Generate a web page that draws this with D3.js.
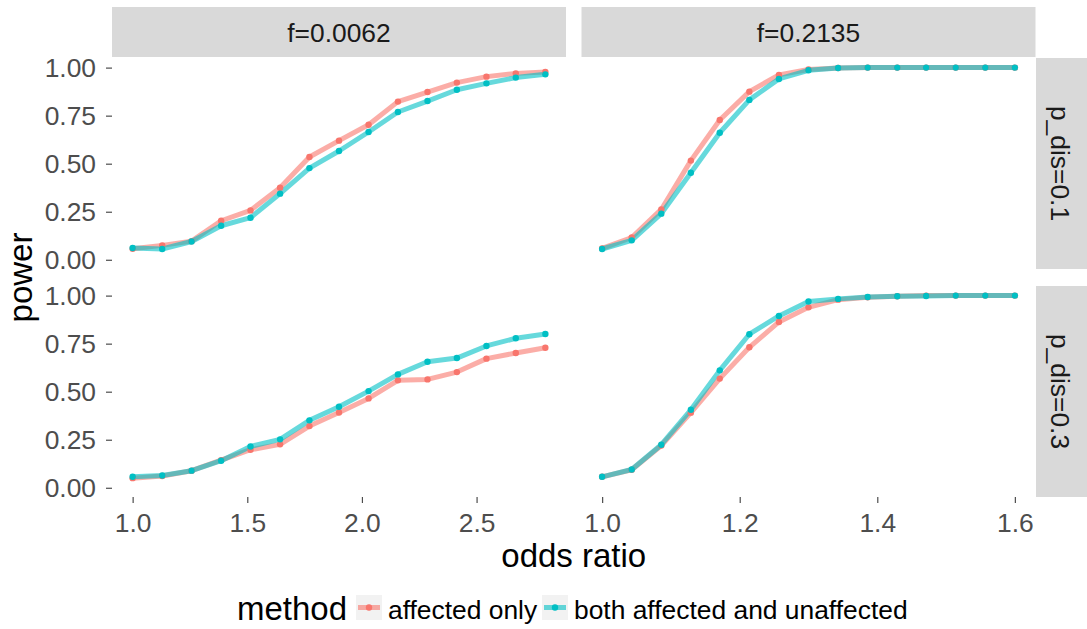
<!DOCTYPE html>
<html>
<head>
<meta charset="utf-8">
<script src="https://cdn.jsdelivr.net/npm/d3@7"></script>
<style>
  html, body { margin: 0; padding: 0; background: #ffffff; }
  svg { display: block; font-family: "Liberation Sans", Arial, sans-serif; }
</style>
</head>
<body>
<svg id="chart" width="1087" height="629"></svg>
<script>
// Odds ratios evaluated for each allele frequency
const oddsLow = [1.00, 1.129, 1.257, 1.386, 1.514, 1.643, 1.771, 1.900, 2.029, 2.157, 2.286, 2.414, 2.543, 2.671, 2.80];
const oddsHigh = [1.00, 1.043, 1.086, 1.129, 1.171, 1.214, 1.257, 1.300, 1.343, 1.386, 1.429, 1.471, 1.514, 1.557, 1.60];

const freqLabels = ["f=0.0062", "f=0.2135"];
const disLabels = ["p_dis=0.1", "p_dis=0.3"];
const methods = ["affected only", "both affected and unaffected"];

// Power, f=0.0062, p_dis=0.1
const pow_f1_d1_aff  = [0.057, 0.075, 0.097, 0.203, 0.257, 0.375, 0.535, 0.620, 0.703, 0.823, 0.873, 0.922, 0.953, 0.970, 0.977];
const pow_f1_d1_both = [0.061, 0.056, 0.095, 0.177, 0.219, 0.344, 0.477, 0.566, 0.665, 0.769, 0.826, 0.885, 0.918, 0.948, 0.965];
// Power, f=0.2135, p_dis=0.1
const pow_f2_d1_aff  = [0.059, 0.116, 0.262, 0.516, 0.727, 0.875, 0.962, 0.990, 0.998, 1.000, 1.000, 1.000, 1.000, 1.000, 1.000];
const pow_f2_d1_both = [0.056, 0.101, 0.240, 0.453, 0.661, 0.832, 0.941, 0.986, 0.998, 1.000, 1.000, 1.000, 1.000, 1.000, 1.000];
// Power, f=0.0062, p_dis=0.3
const pow_f1_d2_aff  = [0.050, 0.061, 0.089, 0.144, 0.198, 0.226, 0.321, 0.392, 0.465, 0.559, 0.564, 0.602, 0.672, 0.701, 0.729];
const pow_f1_d2_both = [0.057, 0.064, 0.089, 0.141, 0.215, 0.252, 0.351, 0.422, 0.503, 0.590, 0.656, 0.675, 0.738, 0.778, 0.800];
// Power, f=0.2135, p_dis=0.3
const pow_f2_d2_aff  = [0.057, 0.094, 0.220, 0.391, 0.568, 0.731, 0.863, 0.939, 0.979, 0.991, 0.997, 1.000, 1.000, 1.000, 1.000];
const pow_f2_d2_both = [0.057, 0.095, 0.224, 0.406, 0.611, 0.799, 0.894, 0.969, 0.983, 0.993, 0.997, 0.998, 1.000, 1.000, 1.000];

const xTicksLow = [1.0, 1.5, 2.0, 2.5];
const xTicksHigh = [1.0, 1.2, 1.4, 1.6];
const yTicks = [0, 0.25, 0.5, 0.75, 1.0];

const colors = { "affected only": "#F8766D", "both affected and unaffected": "#00BFC4" };

// Panel table built from the arrays above
const panels = [
  { col: 0, row: 0, x: oddsLow,  series: [pow_f1_d1_aff, pow_f1_d1_both] },
  { col: 1, row: 0, x: oddsHigh, series: [pow_f2_d1_aff, pow_f2_d1_both] },
  { col: 0, row: 1, x: oddsLow,  series: [pow_f1_d2_aff, pow_f1_d2_both] },
  { col: 1, row: 1, x: oddsHigh, series: [pow_f2_d2_aff, pow_f2_d2_both] }
];

// Layout
const baseSize = 33;
const smallSize = 26.4;
const colLeft = [112, 581.5];
const panelW = 454;
const rowTop = [58, 286];
const panelH = 211;
const stripTop = 7, stripH = 50;
const stripRightX = 1036, stripRightW = 51;

const svg = d3.select("#chart");

function xScaleFor(col) {
  const xs = col === 0 ? oddsLow : oddsHigh;
  const lo = d3.min(xs), hi = d3.max(xs), pad = (hi - lo) * 0.05;
  return d3.scaleLinear().domain([lo - pad, hi + pad]).range([colLeft[col], colLeft[col] + panelW]);
}
function yScaleFor(row) {
  return d3.scaleLinear().domain([-0.048, 1.05]).range([rowTop[row] + panelH, rowTop[row]]);
}

// Column strips
freqLabels.forEach((lab, i) => {
  svg.append("rect").attr("x", colLeft[i]).attr("y", stripTop).attr("width", panelW).attr("height", stripH).attr("fill", "#D9D9D9");
  svg.append("text").attr("x", colLeft[i] + panelW / 2).attr("y", stripTop + stripH / 2 + 9.5)
    .attr("text-anchor", "middle")
    .attr("font-size", smallSize).attr("fill", "#1A1A1A").text(lab);
});
// Row strips
disLabels.forEach((lab, j) => {
  svg.append("rect").attr("x", stripRightX).attr("y", rowTop[j]).attr("width", stripRightW).attr("height", panelH).attr("fill", "#D9D9D9");
  const cy = rowTop[j] + panelH / 2;
  svg.append("text").attr("transform", `translate(1050.5,${cy}) rotate(90)`)
    .attr("text-anchor", "middle")
    .attr("font-size", smallSize).attr("fill", "#1A1A1A").text(lab);
});

const line = (xs, sx, sy) => d3.line().x((d, i) => sx(xs[i])).y(d => sy(d));

panels.forEach(p => {
  const sx = xScaleFor(p.col), sy = yScaleFor(p.row);
  const g = svg.append("g");
  // lines first, then points
  p.series.forEach((vals, k) => {
    g.append("path").datum(vals).attr("d", line(p.x, sx, sy)).attr("fill", "none")
      .attr("stroke", colors[methods[k]]).attr("stroke-width", 5).attr("stroke-opacity", 0.6)
      .attr("stroke-linejoin", "round");
  });
  p.series.forEach((vals, k) => {
    g.selectAll(null).data(vals).enter().append("circle")
      .attr("cx", (d, i) => sx(p.x[i])).attr("cy", d => sy(d)).attr("r", 3.2)
      .attr("fill", colors[methods[k]]);
  });
});

// Y axes (left column only)
[0, 1].forEach(row => {
  const sy = yScaleFor(row);
  const ax = svg.append("g").attr("transform", `translate(${colLeft[0]},0)`)
    .call(d3.axisLeft(sy).tickValues(yTicks).tickFormat(d3.format(".2f")).tickSize(6).tickPadding(10));
  ax.select(".domain").remove();
  ax.selectAll("line").attr("stroke", "#4D4D4D").attr("stroke-width", 1.2);
  ax.selectAll("text").attr("font-size", smallSize).attr("fill", "#4D4D4D").attr("font-family", "Liberation Sans, Arial, sans-serif");
});
// X axes (bottom row only)
[0, 1].forEach(col => {
  const sx = xScaleFor(col);
  const ax = svg.append("g").attr("transform", `translate(0,${rowTop[1] + panelH})`)
    .call(d3.axisBottom(sx).tickValues(col === 0 ? xTicksLow : xTicksHigh).tickFormat(d3.format(".1f")).tickSize(6).tickPadding(10));
  ax.select(".domain").remove();
  ax.selectAll("line").attr("stroke", "#4D4D4D").attr("stroke-width", 1.2);
  ax.selectAll("text").attr("font-size", smallSize).attr("fill", "#4D4D4D").attr("font-family", "Liberation Sans, Arial, sans-serif");
});

// Axis titles
svg.append("text").attr("x", (colLeft[0] + colLeft[1] + panelW) / 2).attr("y", 567)
  .attr("text-anchor", "middle").attr("font-size", baseSize).attr("fill", "#000").text("odds ratio");
svg.append("text").attr("transform", `translate(31.5,${(rowTop[0] + rowTop[1] + panelH) / 2}) rotate(-90)`)
  .attr("text-anchor", "middle").attr("font-size", baseSize).attr("fill", "#000").text("power");

// Legend
const leg = svg.append("g");
leg.append("text").attr("x", 237).attr("y", 620).attr("font-size", baseSize).attr("fill", "#000").text("method");
const keyX = [356, 542];
const labX = [388, 574];
methods.forEach((m, k) => {
  leg.append("rect").attr("x", keyX[k]).attr("y", 595).attr("width", 26).attr("height", 25).attr("fill", "#F2F2F2");
  leg.append("line").attr("x1", keyX[k] + 2).attr("x2", keyX[k] + 24).attr("y1", 607.5).attr("y2", 607.5)
    .attr("stroke", colors[m]).attr("stroke-width", 5).attr("stroke-opacity", 0.6);
  leg.append("circle").attr("cx", keyX[k] + 13).attr("cy", 607.5).attr("r", 3.2).attr("fill", colors[m]);
  leg.append("text").attr("x", labX[k]).attr("y", 618.5).attr("font-size", smallSize).attr("fill", "#000").text(m);
});
</script>
</body>
</html>
